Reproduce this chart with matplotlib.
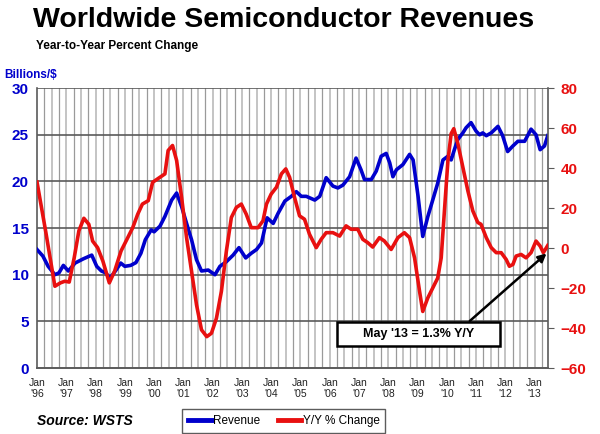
"""Worldwide semiconductor revenues vs. year-to-year percent change (WSTS)."""

import matplotlib

matplotlib.use("Agg")
import matplotlib.pyplot as plt
from matplotlib.lines import Line2D
from matplotlib.patches import Rectangle
import numpy as np

plt.rcParams["font.family"] = ["Liberation Sans", "DejaVu Sans"]

# ---- data (decimal year -> value) ----
rev_years = [1996.0, 1996.2, 1996.38, 1996.61, 1996.75, 1996.9, 1997.07, 1997.3, 1997.58,
             1997.87, 1998.04, 1998.2, 1998.35, 1998.49, 1998.7, 1998.86, 1999.0, 1999.2,
             1999.38, 1999.55, 1999.7, 1999.9, 2000.0, 2000.2, 2000.37, 2000.6, 2000.77,
             2000.94, 2001.11, 2001.28, 2001.45, 2001.62, 2001.85, 2002.08, 2002.25,
             2002.47, 2002.7, 2002.9, 2003.13, 2003.32, 2003.5, 2003.67, 2003.86, 2004.07,
             2004.24, 2004.47, 2004.69, 2004.86, 2005.03, 2005.2, 2005.49, 2005.66,
             2005.88, 2006.11, 2006.28, 2006.45, 2006.68, 2006.9, 2007.07, 2007.19,
             2007.42, 2007.59, 2007.76, 2007.93, 2008.05, 2008.16, 2008.28, 2008.5,
             2008.73, 2008.85, 2009.02, 2009.18, 2009.35, 2009.52, 2009.69, 2009.87,
             2010.04, 2010.15, 2010.26, 2010.38, 2010.55, 2010.66, 2010.83, 2011.0,
             2011.12, 2011.23, 2011.35, 2011.52, 2011.75, 2011.91, 2012.08, 2012.26,
             2012.43, 2012.66, 2012.88, 2013.05, 2013.19, 2013.34, 2013.45]
revenue = [12.7, 12.0, 10.9, 10.0, 10.2, 11.0, 10.4, 11.25, 11.7,
           12.1, 10.9, 10.4, 10.2, 9.6, 10.5, 11.25, 10.9, 11.0,
           11.3, 12.3, 13.75, 14.8, 14.6, 15.2, 16.25, 18.0, 18.75,
           17.3, 15.5, 13.75, 11.6, 10.4, 10.5, 10.0, 10.9,
           11.4, 12.1, 12.9, 11.8, 12.3, 12.7, 13.4, 16.1, 15.5,
           16.6, 17.9, 18.4, 18.9, 18.4, 18.4, 18.0, 18.4,
           20.4, 19.5, 19.3, 19.6, 20.5, 22.5, 21.25, 20.2,
           20.2, 21.1, 22.7, 23.0, 22.0, 20.5, 21.25, 21.8,
           22.9, 22.3, 18.4, 14.1, 16.2, 18.0, 19.8, 22.3,
           22.7, 22.3, 23.4, 24.5, 25.2, 25.75, 26.3, 25.4,
           25.0, 25.2, 24.9, 25.2, 25.9, 24.9, 23.2, 23.8,
           24.3, 24.3, 25.6, 25.0, 23.4, 23.8, 24.9]

yoy_years = [1996.0, 1996.3, 1996.61, 1996.8, 1996.95, 1997.1, 1997.27, 1997.43, 1997.6,
             1997.77, 1997.9, 1998.07, 1998.25, 1998.47, 1998.65, 1998.87, 1999.1,
             1999.27, 1999.44, 1999.6, 1999.8, 1999.95, 2000.2, 2000.37, 2000.48,
             2000.63, 2000.77, 2000.94, 2001.11, 2001.28, 2001.45, 2001.62, 2001.8,
             2001.96, 2002.13, 2002.3, 2002.47, 2002.64, 2002.81, 2002.98, 2003.15,
             2003.32, 2003.55, 2003.72, 2003.84, 2004.0, 2004.18, 2004.35, 2004.5,
             2004.63, 2004.8, 2004.97, 2005.14, 2005.31, 2005.54, 2005.71, 2005.88,
             2006.11, 2006.34, 2006.56, 2006.73, 2006.96, 2007.13, 2007.3, 2007.47,
             2007.7, 2007.87, 2008.1, 2008.33, 2008.55, 2008.73, 2008.9, 2009.07,
             2009.18, 2009.35, 2009.52, 2009.69, 2009.81, 2009.92, 2010.04, 2010.15,
             2010.24, 2010.38, 2010.55, 2010.72, 2010.89, 2011.06, 2011.17, 2011.35,
             2011.52, 2011.69, 2011.86, 2012.03, 2012.14, 2012.26, 2012.37, 2012.54,
             2012.71, 2012.88, 2013.05, 2013.19, 2013.3, 2013.45]
yoy_pct = [33.0, 8.0, -19.1, -17.4, -16.6, -17.0, -4.9, 8.6, 14.9,
           11.9, 3.5, 0.2, -6.5, -17.4, -11.6, -1.5, 5.2,
           10.2, 16.9, 22.0, 23.7, 32.9, 35.4, 37.1, 48.8,
           51.3, 43.8, 25.3, 5.2, -11.6, -28.4, -40.9, -44.3,
           -42.6, -35.1, -21.6, -1.5, 15.3, 20.3, 22.0, 16.9,
           10.2, 10.2, 13.6, 22.0, 27.0, 30.4, 37.1, 39.6,
           35.4, 25.3, 16.1, 14.4, 6.9, 0.2, 4.4, 7.7,
           7.7, 6.0, 11.1, 9.4, 9.4, 4.4, 2.7, 0.5,
           5.2, 3.5, -0.7, 5.2, 7.7, 5.2, -4.9, -21.6,
           -31.7, -25.0, -20.0, -15.0, -4.9, 18.6, 43.8, 57.2,
           59.7, 52.2, 40.4, 28.7, 18.6, 12.8, 11.9, 5.2,
           0.2, -2.3, -2.3, -5.7, -9.1, -8.2, -4.0, -3.2,
           -4.9, -2.3, 3.5, 1.0, -2.3, 1.3]

year_labels = ["'96", "'97", "'98", "'99", "'00", "'01", "'02", "'03", "'04",
               "'05", "'06", "'07", "'08", "'09", "'10", "'11", "'12", "'13"]

BLUE = "#0000cc"
RED = "#e81010"
GRID = "#5a5a5a"


def to_months(years):
    return (np.asarray(years) - 1996.0) * 12.0


fig = plt.figure(figsize=(6.0, 4.34), dpi=100)
ax = fig.add_axes([0.0617, 0.152, 0.8516, 0.645])
ax2 = ax.twinx()  # drawn on top: red line and arrow sit above grid and blue

x_max = 209.5
ax.set_xlim(0, x_max)
ax.set_ylim(0, 30)
ax2.set_ylim(-60, 80)

# quarterly vertical grid, alternating light / darker gray
for i, m in enumerate(np.arange(3, x_max, 3)):
    ax.axvline(m, color="#c4c4c4" if i % 2 else "#9a9a9a",
               lw=1.4 if i % 2 else 0.9, zorder=0)
for v in range(5, 31, 5):
    ax.axhline(v, color=GRID, lw=1.2, zorder=1)

ax.plot(to_months(rev_years), revenue, color=BLUE, lw=2.6, zorder=5)
ax2.plot(to_months(yoy_years), yoy_pct, color=RED, lw=2.6, zorder=4)

ax.set_xticks(np.arange(0, 205, 12))
ax.set_xticklabels([f"Jan\n{y}" for y in year_labels], fontsize=7.5,
                   color="#222222", linespacing=1.2)
ax.tick_params(axis="x", length=0, pad=7)

ax.set_yticks(range(0, 31, 5))
ax.tick_params(axis="y", length=0, pad=6, labelsize=11, labelcolor=BLUE)
for t in ax.get_yticklabels():
    t.set_fontweight("bold")

ax2.set_yticks(range(-60, 81, 20))
ax2.tick_params(axis="y", direction="out", length=4, color=GRID, pad=5,
                labelsize=11, labelcolor=RED)
for t in ax2.get_yticklabels():
    t.set_fontweight("bold")

for a in (ax, ax2):
    for side in ("left", "right", "bottom", "top"):
        a.spines[side].set_color(GRID)
        a.spines[side].set_linewidth(1.2)
    a.spines["top"].set_visible(False)
    a.spines["right"].set_visible(a is ax2)
    a.spines["left"].set_visible(a is ax)

# titles
fig.text(0.055, 0.955, "Worldwide Semiconductor Revenues", fontsize=20.5,
         fontweight="bold", va="center", ha="left")
fig.text(0.06, 0.895, "Year-to-Year Percent Change", fontsize=8.5,
         fontweight="bold", va="center", ha="left")
fig.text(0.007, 0.827, "Billions/$", fontsize=8.5, fontweight="bold",
         color=BLUE, va="center", ha="left")
fig.text(0.062, 0.03, "Source: WSTS", fontsize=10, fontweight="bold",
         style="italic", va="center", ha="left")

# annotation box + arrow to the last point
fig.add_artist(Rectangle((0.5617, 0.2028), 0.2716, 0.0553, transform=fig.transFigure,
                         fc="white", ec="black", lw=1.8, zorder=10))
fig.text(0.6975, 0.2305, "May '13 = 1.3% Y/Y", fontsize=9, fontweight="bold",
         ha="center", va="center", zorder=11)
ax2.annotate("", xy=(to_months([yoy_years[-1]])[0] - 0.5, yoy_pct[-1] - 4),
             xytext=(0.783, 0.2604), textcoords="figure fraction",
             arrowprops=dict(arrowstyle="-|>", color="black", lw=1.8,
                             mutation_scale=12, shrinkA=0, shrinkB=0),
             zorder=9)

handles = [Line2D([], [], color=BLUE, lw=3.5), Line2D([], [], color=RED, lw=3.5)]
leg = fig.legend(handles, ["Revenue", "Y/Y % Change"], loc="center",
                 bbox_to_anchor=(0.473, 0.03), ncol=2, fontsize=8.5,
                 frameon=True, fancybox=False, handlelength=2.0,
                 handletextpad=0.1, columnspacing=1.5, borderpad=0.5)
leg.get_frame().set_edgecolor("#333333")
leg.get_frame().set_linewidth(1.0)

fig.savefig("out.png", dpi=100)
